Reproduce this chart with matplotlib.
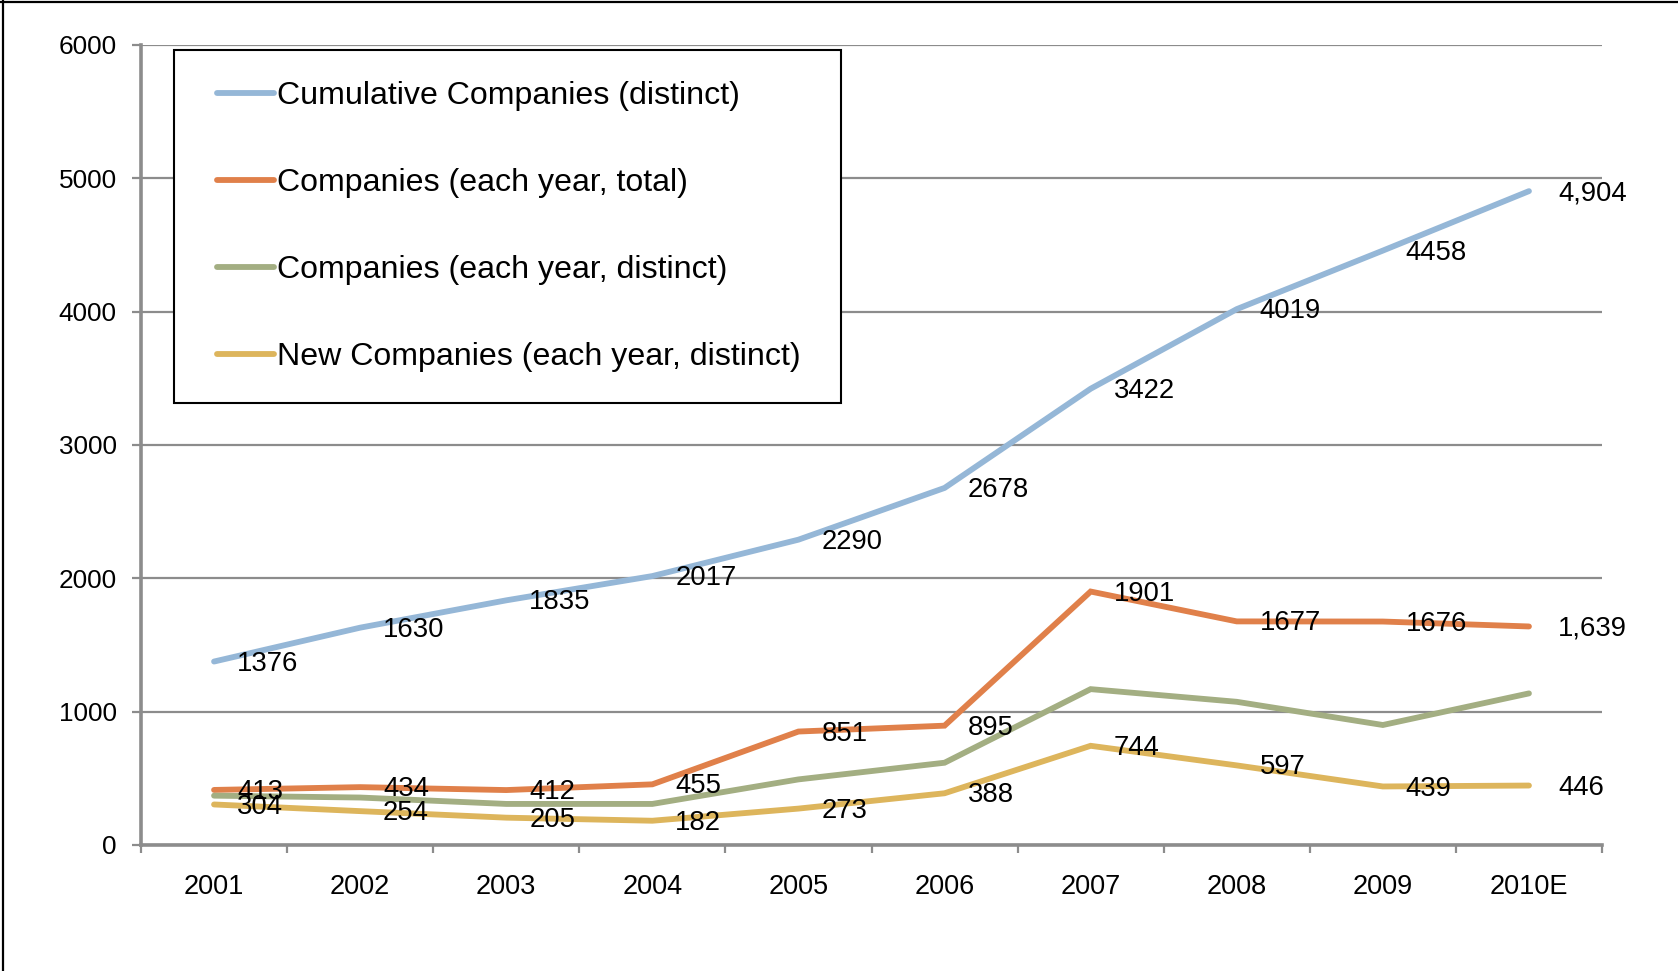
import matplotlib
matplotlib.use("Agg")
import matplotlib.pyplot as plt
from matplotlib.lines import Line2D
from matplotlib.legend_handler import HandlerLine2D

plt.rcParams['font.family'] = ['Liberation Sans', 'DejaVu Sans']

years = ["2001", "2002", "2003", "2004", "2005", "2006", "2007", "2008", "2009", "2010E"]
cumulative = [1376, 1630, 1835, 2017, 2290, 2678, 3422, 4019, 4458, 4904]
total_each = [413, 434, 412, 455, 851, 895, 1901, 1677, 1676, 1639]
distinct_each = [370, 356, 308, 308, 492, 617, 1169, 1074, 900, 1137]
new_each = [304, 254, 205, 182, 273, 388, 744, 597, 439, 446]

cumulative_labels = ["1376", "1630", "1835", "2017", "2290", "2678", "3422", "4019", "4458", "4,904"]
total_labels = ["413", "434", "412", "455", "851", "895", "1901", "1677", "1676", "1,639"]
new_labels = ["304", "254", "205", "182", "273", "388", "744", "597", "439", "446"]

series_names = ["Cumulative Companies (distinct)", "Companies (each year, total)",
                "Companies (each year, distinct)", "New Companies (each year, distinct)"]
colors = ["#95B7D7", "#E0804A", "#A3AE82", "#DDB55C"]
yticks = [0, 1000, 2000, 3000, 4000, 5000, 6000]

W, H = 1678, 971
fig = plt.figure(figsize=(W / 100, H / 100), dpi=100)
ax = fig.add_axes([141 / W, 1 - 845 / H, (1602 - 141) / W, (845 - 45) / H])

x = list(range(len(years)))
series = [cumulative, total_each, distinct_each, new_each]
labels = [cumulative_labels, total_labels, None, new_labels]
for vals, col, name in zip(series, colors, series_names):
    ax.plot(x, vals, color=col, lw=4.2, solid_capstyle='round', solid_joinstyle='miter', label=name, zorder=3)

for vals, labs in zip(series, labels):
    if labs is None:
        continue
    for i, (v, t) in enumerate(zip(vals, labs)):
        dx = 21 if i == len(vals) - 1 else 16.5
        ax.annotate(t, (i, v), xytext=(dx, -1.5), textcoords='offset points',
                    ha='left', va='center', fontsize=19.8, color='black', zorder=5)

ax.set_xlim(-0.5, len(years) - 0.5)
ax.set_ylim(0, 6000)
ax.set_yticks(yticks)
ax.set_yticklabels([str(v) for v in yticks])
ax.set_xticks(x)
ax.set_xticklabels(years)
ax.set_xticks([i - 0.5 for i in range(len(years) + 1)], minor=True)

grid_col = "#8C8C8C"
ax.grid(axis='y', color=grid_col, lw=1.6, zorder=1)
ax.set_axisbelow(True)
for s in ['top', 'right']:
    ax.spines[s].set_visible(False)
for s in ['left', 'bottom']:
    ax.spines[s].set_color(grid_col)
    ax.spines[s].set_linewidth(2.6)

ax.tick_params(axis='y', which='major', direction='out', length=6.5, width=1.6,
               color=grid_col, labelsize=18.8, pad=11)
ax.tick_params(axis='x', which='major', length=0, labelsize=19.5, pad=21)
ax.tick_params(axis='x', which='minor', direction='out', length=6, width=1.6, color=grid_col)

fs = 23.1
handles = [Line2D([], [], color=c, lw=4.2, solid_capstyle='round') for c in colors]
leg = fig.legend(handles, series_names, loc='upper left',
                 bbox_to_anchor=(174 / W, 1 - 397 / H, (841 - 174) / W, (397 - 50) / H),
                 mode='expand', borderaxespad=0, fontsize=fs, frameon=True, fancybox=False,
                 edgecolor='black', borderpad=0.98, handlelength=2.13, handletextpad=0.1,
                 labelspacing=1.77,
                 handler_map={Line2D: HandlerLine2D(xpad=0.36)})
leg.get_frame().set_linewidth(1.5)
leg.get_frame().set_facecolor('white')
leg.get_frame().set_alpha(1)

# figure border (left and top)
fig.add_artist(Line2D([3 / W, 3 / W], [0, 1], transform=fig.transFigure, color='black', lw=1.6))
fig.add_artist(Line2D([0, 1], [1 - 2 / H, 1 - 2 / H], transform=fig.transFigure, color='black', lw=1.6))

fig.savefig("out.png", dpi=100, facecolor='white')
